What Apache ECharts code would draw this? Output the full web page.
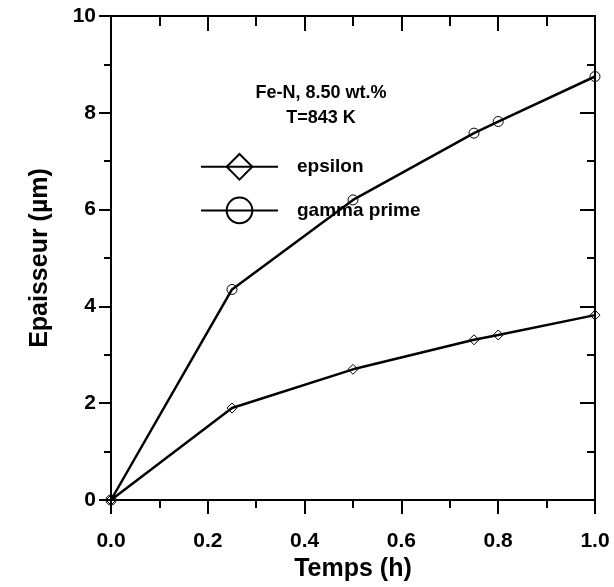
<!DOCTYPE html>
<html>
<head>
<meta charset="utf-8">
<script src="https://cdn.jsdelivr.net/npm/echarts@6/dist/echarts.min.js"></script>
<style>
  html, body { margin: 0; padding: 0; background: #fff; }
  #chart { width: 614px; height: 587px; }
</style>
</head>
<body>
<div id="chart"></div>
<script>
// temps (h)
var temps = [0, 0.25, 0.5, 0.75, 0.8, 1.0]
// epaisseur (um)
var epsilon = [0, 1.9, 2.7, 3.31, 3.41, 3.82]
var gammaPrime = [0, 4.35, 6.2, 7.58, 7.82, 8.75]

var font = 'Liberation Sans, Arial, sans-serif'

function pairs(ys) {
  return temps.map(function (t, i) { return [t, ys[i]] })
}

var chart = echarts.init(document.getElementById('chart'))

var axisLine = { show: true, onZero: false, lineStyle: { color: '#000', width: 2 } }
var tickStyle = { color: '#000', width: 2 }

chart.setOption({
  animation: false,
  title: {
    text: 'Fe-N, 8.50 wt.%\nT=843 K',
    left: 316,
    top: 76,
    textAlign: 'center',
    textStyle: { fontFamily: font, fontWeight: 'bold', fontSize: 18, lineHeight: 25, color: '#000' }
  },
  legend: {
    orient: 'vertical',
    left: 195,
    top: 148,
    itemWidth: 77,
    itemHeight: 32,
    itemGap: 16,
    data: ['epsilon', 'gamma prime'],
    textStyle: { fontFamily: font, fontWeight: 'bold', fontSize: 19, color: '#000', padding: [0, 0, 0, 14] }
  },
  grid: { left: 111, right: 19, top: 16, bottom: 87 },
  xAxis: [{
    type: 'value',
    min: 0,
    max: 1,
    interval: 0.2,
    position: 'bottom',
    name: 'Temps (h)',
    nameLocation: 'middle',
    nameGap: 56,
    nameTextStyle: { fontFamily: font, fontWeight: 'bold', fontSize: 25, color: '#000' },
    axisLine: axisLine,
    axisTick: { show: true, length: 14, lineStyle: tickStyle },
    minorTick: { show: true, splitNumber: 2, length: 8, lineStyle: tickStyle },
    splitLine: { show: false },
    axisLabel: {
      fontFamily: font, fontWeight: 'bold', fontSize: 21, color: '#000', margin: 31,
      formatter: function (v) { return v.toFixed(1) }
    }
  }, {
    type: 'value',
    min: 0,
    max: 1,
    interval: 0.2,
    position: 'top',
    axisLine: axisLine,
    axisTick: { show: true, inside: true, length: 15, lineStyle: tickStyle },
    minorTick: { show: true, splitNumber: 2, length: 10, lineStyle: tickStyle },
    splitLine: { show: false },
    axisLabel: { show: false }
  }],
  yAxis: [{
    type: 'value',
    min: 0,
    max: 10,
    interval: 2,
    position: 'left',
    name: 'Epaisseur (\u00b5m)',
    nameLocation: 'middle',
    nameGap: 58,
    nameTextStyle: { fontFamily: font, fontWeight: 'bold', fontSize: 25, color: '#000' },
    axisLine: axisLine,
    axisTick: { show: true, length: 12, lineStyle: tickStyle },
    minorTick: { show: true, splitNumber: 2, length: 7, lineStyle: tickStyle },
    splitLine: { show: false },
    axisLabel: { fontFamily: font, fontWeight: 'bold', fontSize: 21, color: '#000', margin: 15 }
  }, {
    type: 'value',
    min: 0,
    max: 10,
    interval: 2,
    position: 'right',
    axisLine: axisLine,
    axisTick: { show: true, inside: true, length: 15, lineStyle: tickStyle },
    minorTick: { show: true, splitNumber: 2, length: 8, lineStyle: tickStyle },
    splitLine: { show: false },
    axisLabel: { show: false }
  }],
  series: [{
    name: 'epsilon',
    type: 'line',
    data: pairs(epsilon),
    symbol: 'diamond',
    symbolSize: 10,
    lineStyle: { color: '#000', width: 2.5 },
    itemStyle: { color: 'transparent', borderColor: '#000', borderWidth: 1 }
  }, {
    name: 'gamma prime',
    type: 'line',
    data: pairs(gammaPrime),
    symbol: 'circle',
    symbolSize: 10,
    lineStyle: { color: '#000', width: 2.5 },
    itemStyle: { color: 'transparent', borderColor: '#000', borderWidth: 1 }
  }]
})
</script>
</body>
</html>
